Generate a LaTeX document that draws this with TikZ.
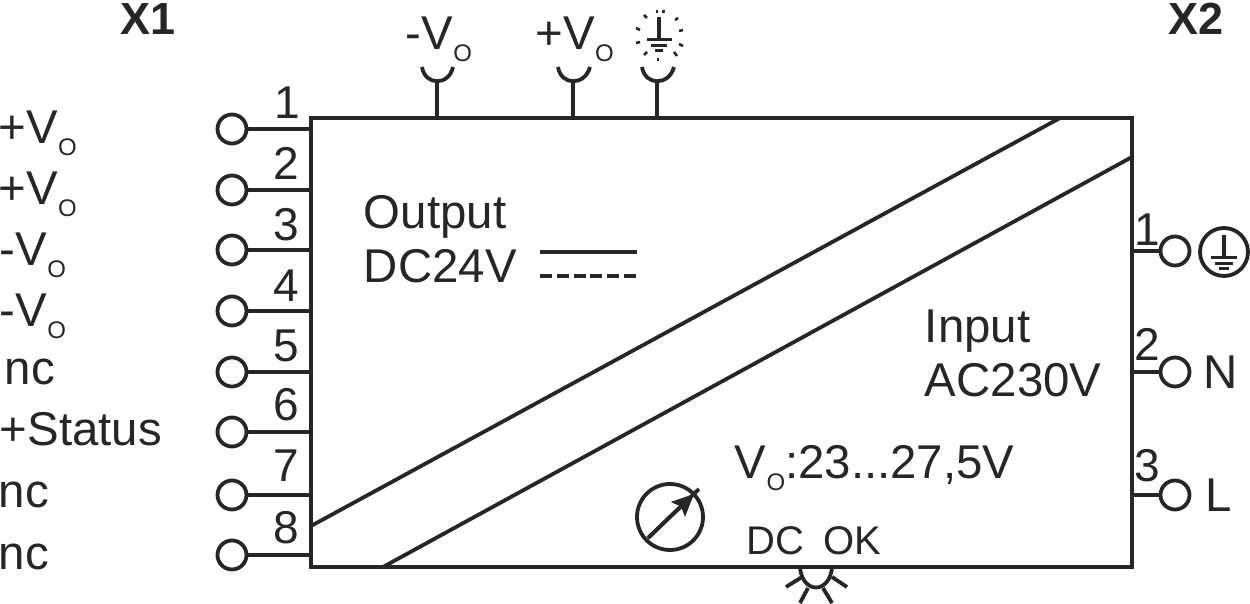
\documentclass[tikz,border=0pt]{standalone}
\usepackage{fontspec}
\setmainfont{Liberation Sans}
\usetikzlibrary{arrows.meta}
\newcommand{\Vo}{V\raisebox{-.25em}{\fontsize{12}{12}\selectfont O}}
\tikzset{
  pin/.style={draw,circle,fill=white,line width=1.9pt,minimum size=14.5pt,inner sep=0pt},
  lbl/.style={anchor=base west,inner sep=0pt,font=\fontsize{23.7}{24}\selectfont},
  num/.style={anchor=center,inner sep=0pt,font=\fontsize{23}{24}\selectfont},
  ok/.style={anchor=base west,inner sep=0pt,font=\fontsize{20}{24}\selectfont},
  bold/.style={anchor=center,inner sep=0pt,font=\fontsize{22.5}{24}\selectfont\bfseries},
  wire/.style={line width=1.9pt},
  bar/.style={line width=1.5pt},
  ray/.style={line width=1.3pt}
}
\begin{document}
\begin{tikzpicture}[x=0.5pt,y=-0.5pt,line width=1.9pt,color={black!85}]

            \useasboundingbox (0,0) rectangle (1250,604);

            \node[draw,line width=2pt,minimum width=410.5pt,minimum height=224.5pt,inner sep=0pt,outer sep=0pt] (box) at (721.5,342.5) {};

            \draw[wire] (311,526) -- (1060,118);
            \draw[wire] (383,567) -- (1132,157);

            \node[bold] (x1) at (148,19) {X1};
            \node[bold] (x2) at (1196,19) {X2};

            \node[pin] (p1) at (232,129) {};
            \node[pin] (p2) at (232,190) {};
            \node[pin] (p3) at (232,250) {};
            \node[pin] (p4) at (232,311) {};
            \node[pin] (p5) at (232,372) {};
            \node[pin] (p6) at (232,432) {};
            \node[pin] (p7) at (232,495) {};
            \node[pin] (p8) at (232,555) {};

            \draw[wire] (p1) -- (p1 -| box.west);
            \draw[wire] (p2) -- (p2 -| box.west);
            \draw[wire] (p3) -- (p3 -| box.west);
            \draw[wire] (p4) -- (p4 -| box.west);
            \draw[wire] (p5) -- (p5 -| box.west);
            \draw[wire] (p6) -- (p6 -| box.west);
            \draw[wire] (p7) -- (p7 -| box.west);
            \draw[wire] (p8) -- (p8 -| box.west);

            \node[num] (n1) at (287,103) {1};
            \node[num] (n2) at (286,163) {2};
            \node[num] (n3) at (286,225) {3};
            \node[num] (n4) at (286,286) {4};
            \node[num] (n5) at (286,346) {5};
            \node[num] (n6) at (286,405) {6};
            \node[num] (n7) at (286,466) {7};
            \node[num] (n8) at (286,528) {8};

            \node[lbl] (l1) at (-3,144) {+\Vo};
            \node[lbl] (l2) at (-3,205) {+\Vo};
            \node[lbl] (l3) at (-2,266) {-\Vo};
            \node[lbl] (l4) at (-2,327) {-\Vo};
            \node[lbl] (l5) at (3,385) {nc};
            \node[lbl] (l6) at (-2,446) {+Status};
            \node[lbl] (l7) at (-3,508) {nc};
            \node[lbl] (l8) at (-3,570) {nc};

            \node[pin] (q1) at (1175,251) {};
            \node[pin] (q2) at (1175,372) {};
            \node[pin] (q3) at (1175,495) {};

            \draw[wire] (q1) -- (q1 -| box.east);
            \draw[wire] (q2) -- (q2 -| box.east);
            \draw[wire] (q3) -- (q3 -| box.east);

            \node[num] (m1) at (1147,230) {1};
            \node[num] (m2) at (1147,344) {2};
            \node[num] (m3) at (1147,466) {3};

            \node[lbl] (nn) at (1202,389) {N};
            \node[lbl] (ll) at (1204,512) {L};

            \node[pin,minimum size=24pt] (pe) at (1224,252) {};
            \draw[wire] (1224,235) -- (1224,258);
            \draw[bar] (1211,258) -- (1237,258);
            \draw[bar] (1215,264) -- (1233,264);
            \draw[bar] (1219,269) -- (1229,269);

            \node[lbl] (out) at (362,229) {Output};
            \node[lbl] (dc) at (362,283) {DC24V};
            \coordinate (sa) at (540,252);
            \coordinate (sb) at (637,252);
            \coordinate (da) at (540,276);
            \coordinate (db) at (637,276);
            \draw[wire] (sa) -- (sb);
            \draw[wire,dash pattern=on 6pt off 2.4pt] (da) -- (db);

            \node[lbl] (in) at (923,343) {Input};
            \node[lbl] (ac) at (923,397) {AC230V};
            \node[lbl] (vr) at (733,479) {\Vo:23...27,5V};
            \node[ok] (dk) at (745,555) {DC\hspace{.2em} OK};

            \node[pin,minimum size=33pt] (meter) at (670,517) {};
            \coordinate (ma) at (648,538);
            \coordinate (mb) at (699,489);
            \coordinate (mh) at (694,494);
            \draw[wire] (ma) -- (mb);
            \draw[wire,-{Stealth[length=11pt,width=10pt,inset=2pt]}] (ma) -- (mh);

            \node[lbl] (mv) at (404,50) {-\Vo};
            \node[lbl] (pv) at (534,50) {+\Vo};

            \coordinate (t1) at (437,82);
            \coordinate (t2) at (573,82);
            \coordinate (t3) at (657,82);
            \draw[wire] (t1) -- (t1 |- box.north);
            \draw[wire] (t2) -- (t2 |- box.north);
            \draw[wire] (t3) -- (t3 |- box.north);
            \draw[wire] (422,67) .. controls (425,86) and (449,86) .. (453,67);
            \draw[wire] (558,67) .. controls (561,86) and (585,86) .. (590,67);
            \draw[wire] (642,67) .. controls (645,86) and (669,86) .. (674,67);

            \draw[wire] (659,17) -- (659,40);
            \draw[bar] (647,40) -- (672,40);
            \draw[bar] (651,46) -- (667,46);
            \draw[bar] (655,51) -- (663,51);
            \draw[ray] (657,10) -- (657,13);
            \draw[ray] (664,10) -- (663,13);
            \draw[ray] (644,15) -- (647,18);
            \draw[ray] (678,18) -- (675,20);
            \draw[ray] (636,28) -- (640,30);
            \draw[ray] (683,30) -- (679,31);
            \draw[ray] (636,43) -- (640,42);
            \draw[ray] (683,46) -- (679,44);
            \draw[ray] (644,55) -- (647,52);
            \draw[ray] (674,52) -- (677,56);
            \draw[ray] (658,58) -- (658,61);

            \draw[wire] (800,568) .. controls (803,594) and (829,594) .. (832,568);
            \draw[wire] (802,577) -- (786,587);
            \draw[wire] (808,588) -- (800,603);
            \draw[wire] (823,588) -- (832,603);
            \draw[wire] (832,577) -- (847,587);

          \end{tikzpicture}
\end{document}
